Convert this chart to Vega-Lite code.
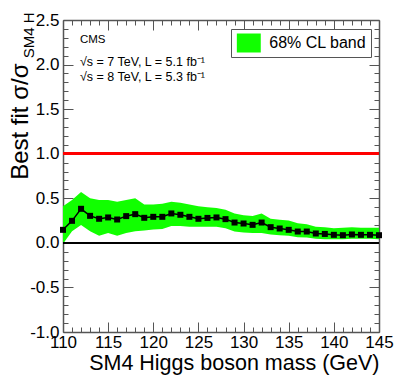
{
  "$schema": "https://vega.github.io/schema/vega-lite/v6.json",
  "width": 316,
  "height": 312,
  "autosize": "none",
  "padding": {"left": 63, "top": 20, "right": 20, "bottom": 51},
  "background": "white",
  "config": {
    "view": {"stroke": null},
    "font": "Liberation Sans",
    "axis": {
      "domainColor": "#555",
      "domainWidth": 1.5,
      "tickColor": "#555",
      "tickWidth": 1,
      "grid": false,
      "labelFont": "Liberation Sans",
      "labelFontSize": 17,
      "labelColor": "black",
      "titleFont": "Liberation Sans",
      "titleFontWeight": "normal",
      "titleColor": "black"
    }
  },
  "data": {
    "values": [
      {"mass": 110, "mu": 0.146, "lo": -0.01, "hi": 0.41},
      {"mass": 111, "mu": 0.247, "lo": 0.13, "hi": 0.48},
      {"mass": 112, "mu": 0.382, "lo": 0.2, "hi": 0.57},
      {"mass": 113, "mu": 0.303, "lo": 0.13, "hi": 0.5},
      {"mass": 114, "mu": 0.27, "lo": 0.08, "hi": 0.48},
      {"mass": 115, "mu": 0.285, "lo": 0.11, "hi": 0.48},
      {"mass": 116, "mu": 0.262, "lo": 0.08, "hi": 0.46},
      {"mass": 117, "mu": 0.3, "lo": 0.11, "hi": 0.48},
      {"mass": 118, "mu": 0.322, "lo": 0.13, "hi": 0.5},
      {"mass": 119, "mu": 0.281, "lo": 0.14, "hi": 0.43},
      {"mass": 120, "mu": 0.292, "lo": 0.15, "hi": 0.43},
      {"mass": 121, "mu": 0.292, "lo": 0.155, "hi": 0.44},
      {"mass": 122, "mu": 0.33, "lo": 0.19, "hi": 0.46},
      {"mass": 123, "mu": 0.315, "lo": 0.19, "hi": 0.45},
      {"mass": 124, "mu": 0.292, "lo": 0.18, "hi": 0.43},
      {"mass": 125, "mu": 0.27, "lo": 0.18, "hi": 0.41},
      {"mass": 126, "mu": 0.28, "lo": 0.18, "hi": 0.4},
      {"mass": 127, "mu": 0.285, "lo": 0.18, "hi": 0.39},
      {"mass": 128, "mu": 0.266, "lo": 0.165, "hi": 0.37},
      {"mass": 129, "mu": 0.228, "lo": 0.127, "hi": 0.33},
      {"mass": 130, "mu": 0.217, "lo": 0.116, "hi": 0.31},
      {"mass": 131, "mu": 0.202, "lo": 0.11, "hi": 0.3},
      {"mass": 132, "mu": 0.228, "lo": 0.11, "hi": 0.33},
      {"mass": 133, "mu": 0.176, "lo": 0.094, "hi": 0.27},
      {"mass": 134, "mu": 0.161, "lo": 0.086, "hi": 0.26},
      {"mass": 135, "mu": 0.146, "lo": 0.08, "hi": 0.25},
      {"mass": 136, "mu": 0.127, "lo": 0.064, "hi": 0.22},
      {"mass": 137, "mu": 0.127, "lo": 0.06, "hi": 0.21},
      {"mass": 138, "mu": 0.105, "lo": 0.045, "hi": 0.18},
      {"mass": 139, "mu": 0.1, "lo": 0.04, "hi": 0.176},
      {"mass": 140, "mu": 0.09, "lo": 0.04, "hi": 0.165},
      {"mass": 141, "mu": 0.086, "lo": 0.04, "hi": 0.17},
      {"mass": 142, "mu": 0.094, "lo": 0.045, "hi": 0.176},
      {"mass": 143, "mu": 0.09, "lo": 0.045, "hi": 0.17},
      {"mass": 144, "mu": 0.09, "lo": 0.045, "hi": 0.17},
      {"mass": 145, "mu": 0.086, "lo": 0.04, "hi": 0.17}
    ]
  },
  "resolve": {"axis": {"x": "independent", "y": "independent"}},
  "layer": [
    {
      "mark": {"type": "area", "opacity": 1},
      "encoding": {
        "x": {
          "field": "mass", "type": "quantitative",
          "scale": {"domain": [110, 145], "nice": false, "zero": false},
          "axis": {
            "orient": "bottom",
            "values": [110,111,112,113,114,115,116,117,118,119,120,121,122,123,124,125,126,127,128,129,130,131,132,133,134,135,136,137,138,139,140,141,142,143,144,145],
            "tickSize": {"condition": {"test": "datum.value % 5 == 0", "value": -10}, "value": -5},
            "labelExpr": "datum.value % 5 == 0 ? datum.label : ''",
            "labelPadding": 12,
            "labelFlush": false,
            "title": "SM4 Higgs boson mass (GeV)",
            "titleFontSize": 21.5,
            "titleAnchor": "end",
            "titleAlign": "right",
            "titleBaseline": "alphabetic",
            "titleX": 316,
            "titleY": 37
          }
        },
        "y": {
          "field": "lo", "type": "quantitative",
          "scale": {"domain": [-1, 2.5], "nice": false, "zero": false},
          "axis": {
            "orient": "left",
            "values": [-1.0,-0.9,-0.8,-0.7,-0.6,-0.5,-0.4,-0.3,-0.2,-0.1,0,0.1,0.2,0.3,0.4,0.5,0.6,0.7,0.8,0.9,1.0,1.1,1.2,1.3,1.4,1.5,1.6,1.7,1.8,1.9,2.0,2.1,2.2,2.3,2.4,2.5],
            "tickSize": {"condition": {"test": "abs(datum.value*2 - round(datum.value*2)) < 0.001", "value": -10}, "value": -5},
            "labelExpr": "abs(datum.value*2 - round(datum.value*2)) < 0.001 ? replace(format(datum.value, '.1f'), '\u2212', '-') : ''",
            "labelPadding": 14,
            "labelFlush": false,
            "title": "Best fit σ/σ",
            "titleFontSize": 24,
            "titleAngle": 270,
            "titleAlign": "right",
            "titleBaseline": "middle",
            "titleX": -43,
            "titleY": 43
          }
        },
        "y2": {"field": "hi"},
        "fill": {
          "datum": "68% CL band", "type": "nominal",
          "scale": {"range": ["#11ff00"]},
          "legend": {
            "orient": "none",
            "legendX": 168,
            "legendY": 9,
            "title": null,
            "symbolType": "M-1.26,-1H1.26V1H-1.26Z",
            "symbolSize": 361,
            "symbolStrokeWidth": 0,
            "symbolOpacity": 1,
            "symbolOffset": 3.8,
            "labelOffset": 11,
            "labelFont": "Liberation Sans",
            "labelFontSize": 16,
            "labelColor": "black",
            "labelLimit": 300,
            "padding": 4.5,
            "strokeColor": "#555",
            "fillColor": "white"
          }
        }
      }
    },
    {
      "mark": {"type": "rule", "color": "#ff0000", "strokeWidth": 2.5},
      "encoding": {"y": {"datum": 1, "axis": null}}
    },
    {
      "mark": {"type": "rule", "color": "black", "strokeWidth": 1.5},
      "encoding": {"y": {"datum": 0, "axis": null}}
    },
    {
      "mark": {"type": "line", "color": "black", "strokeWidth": 1.5, "point": {"filled": true, "shape": "square", "size": 36, "color": "black", "opacity": 1}},
      "encoding": {
        "x": {
          "field": "mass", "type": "quantitative",
          "axis": {
            "orient": "top",
            "values": [110,111,112,113,114,115,116,117,118,119,120,121,122,123,124,125,126,127,128,129,130,131,132,133,134,135,136,137,138,139,140,141,142,143,144,145],
            "tickSize": {"condition": {"test": "datum.value % 5 == 0", "value": -10}, "value": -5},
            "labels": false,
            "title": null
          }
        },
        "y": {
          "field": "mu", "type": "quantitative",
          "axis": {
            "orient": "right",
            "values": [-1.0,-0.9,-0.8,-0.7,-0.6,-0.5,-0.4,-0.3,-0.2,-0.1,0,0.1,0.2,0.3,0.4,0.5,0.6,0.7,0.8,0.9,1.0,1.1,1.2,1.3,1.4,1.5,1.6,1.7,1.8,1.9,2.0,2.1,2.2,2.3,2.4,2.5],
            "tickSize": {"condition": {"test": "abs(datum.value*2 - round(datum.value*2)) < 0.001", "value": -10}, "value": -5},
            "labels": false,
            "title": "SM4 H",
            "titleFontSize": 15,
            "titleAngle": 270,
            "titleAlign": "right",
            "titleBaseline": "middle",
            "titleX": -351,
            "titleY": -8
          }
        }
      }
    },
    {
      "data": {"values": [{}]},
      "mark": {"type": "text", "align": "left", "baseline": "middle", "fontSize": 11.5, "font": "Liberation Sans", "color": "black"},
      "encoding": {"x": {"datum": 111.88, "axis": null}, "y": {"datum": 2.277, "axis": null}, "text": {"value": "CMS"}}
    },
    {
      "data": {"values": [{}]},
      "mark": {"type": "text", "align": "left", "baseline": "middle", "fontSize": 12.5, "font": "Liberation Sans", "color": "black"},
      "encoding": {"x": {"datum": 111.88, "axis": null}, "y": {"datum": 2.027, "axis": null}, "text": {"value": "√s = 7 TeV, L = 5.1 fb⁻¹"}}
    },
    {
      "data": {"values": [{}]},
      "mark": {"type": "text", "align": "left", "baseline": "middle", "fontSize": 12.5, "font": "Liberation Sans", "color": "black"},
      "encoding": {"x": {"datum": 111.88, "axis": null}, "y": {"datum": 1.86, "axis": null}, "text": {"value": "√s = 8 TeV, L = 5.3 fb⁻¹"}}
    }
  ]
}
